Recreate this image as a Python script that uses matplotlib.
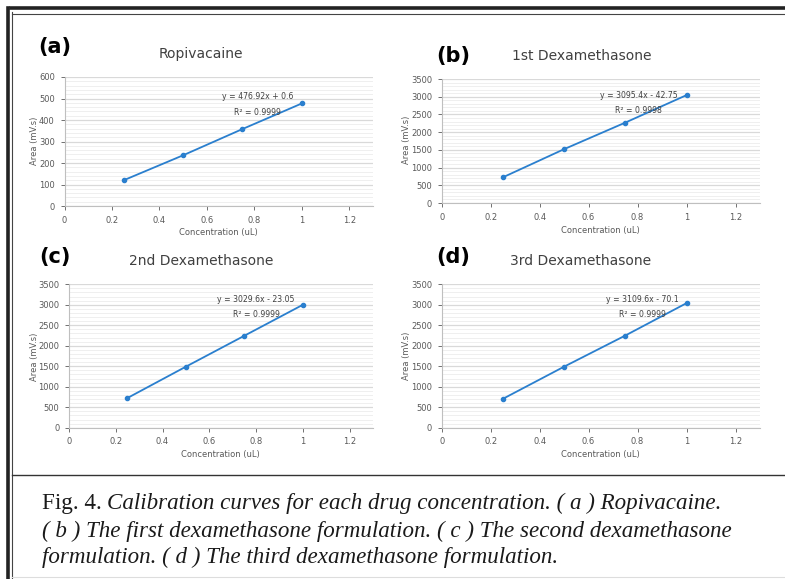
import matplotlib
matplotlib.use("Agg")
import matplotlib.pyplot as plt
from matplotlib.lines import Line2D
from matplotlib.ticker import MultipleLocator

W, H = 785, 579

# data
conc = [0.25, 0.5, 0.75, 1.0]
ropivacaine = [120, 236, 358, 477]
dexa_1st = [725, 1520, 2270, 3045]
dexa_2nd = [725, 1490, 2245, 3000]
dexa_3rd = [705, 1490, 2250, 3040]

letters = ["(a)", "(b)", "(c)", "(d)"]
titles = ["Ropivacaine", "1st Dexamethasone", "2nd Dexamethasone", "3rd Dexamethasone"]
series = [ropivacaine, dexa_1st, dexa_2nd, dexa_3rd]
equations = ["y = 476.92x + 0.6", "y = 3095.4x - 42.75",
             "y = 3029.6x - 23.05", "y = 3109.6x - 70.1"]
r_squared = ["R² = 0.9999", "R² = 0.9998", "R² = 0.9999", "R² = 0.9999"]
y_max = [600, 3500, 3500, 3500]
y_major = [100, 500, 500, 500]
x_ticks = [0, 0.2, 0.4, 0.6, 0.8, 1.0, 1.2]
x_ticklabels = ["0", "0.2", "0.4", "0.6", "0.8", "1", "1.2"]

# layout, in pixels of the 785x579 picture
boxes = [(64.5, 77, 373, 206), (441.7, 79, 760, 203),
         (69, 284.3, 373, 427.7), (441.7, 284.3, 760, 427.7)]
letter_pos = [(55, 47), (453, 56), (55, 257), (453, 257)]
title_pos = [(201, 54), (582, 56), (201, 261), (581, 261)]
xlabel_pos = [(218, 233), (600, 231), (220, 455), (600, 455)]
ylabel_pos = [(35, 141), (407, 140), (35, 357), (407, 356)]
eq_pos = [(0.815, 507, 437), (0.805, 3048, 2625), (0.80, 3117, 2768), (0.82, 3117, 2768)]

BLUE = "#2a7fce"
TICK = "#595959"
MAJOR = "#d9d9d9"
MINOR = "#efefef"


def fx(x):
    return x / W


def fy(y):
    return 1 - y / H


fig = plt.figure(figsize=(W / 100, H / 100), dpi=100)
fig.patch.set_facecolor("white")

for i in range(4):
    x0, y0, x1, y1 = boxes[i]
    ax = fig.add_axes([fx(x0), fy(y1), (x1 - x0) / W, (y1 - y0) / H])
    ax.plot(conc, series[i], color=BLUE, lw=1.3, marker="o", ms=3, zorder=3)
    ax.set_xlim(0, 1.3)
    ax.set_ylim(0, y_max[i])
    ax.set_xticks(x_ticks)
    ax.set_xticklabels(x_ticklabels)
    ax.yaxis.set_major_locator(MultipleLocator(y_major[i]))
    ax.yaxis.set_minor_locator(MultipleLocator(y_major[i] / 5))
    ax.grid(True, which="major", axis="y", color=MAJOR, lw=0.9, zorder=0)
    ax.grid(True, which="minor", axis="y", color=MINOR, lw=0.7, zorder=0)
    ax.tick_params(axis="both", which="major", labelsize=6, colors=TICK,
                   length=3, width=0.6, pad=4, labelcolor=TICK)
    ax.tick_params(axis="y", which="minor", length=0)
    for s in ("top", "right"):
        ax.spines[s].set_visible(False)
    for s in ("left", "bottom"):
        ax.spines[s].set_color("#bfbfbf")
        ax.spines[s].set_linewidth(0.8)
    ex, ey, ry = eq_pos[i]
    ax.text(ex, ey, equations[i], fontsize=5.6, color="#404040", ha="center", va="center")
    ax.text(ex, ry, r_squared[i], fontsize=5.6, color="#404040", ha="center", va="center")

    fig.text(fx(letter_pos[i][0]), fy(letter_pos[i][1]), letters[i], fontsize=15,
             fontweight="bold", ha="center", va="center", color="black")
    fig.text(fx(title_pos[i][0]), fy(title_pos[i][1]), titles[i], fontsize=10,
             ha="center", va="center", color="#404040")
    fig.text(fx(xlabel_pos[i][0]), fy(xlabel_pos[i][1]), "Concentration (uL)",
             fontsize=6, ha="center", va="center", color=TICK)
    fig.text(fx(ylabel_pos[i][0]), fy(ylabel_pos[i][1]), "Area (mV.s)",
             fontsize=6, ha="center", va="center", color=TICK, rotation=90)

# frame: double line on top and left, rule above the caption, faint bottom edge
frame = [
    ((11, 8), (W, 8), 2.6, "#222222"),
    ((12, 14), (W, 14), 0.8, "#444444"),
    ((8, 8), (8, H), 2.6, "#222222"),
    ((12, 12), (12, H), 0.8, "#444444"),
    ((12, 475), (W, 475), 1.0, "#333333"),
    ((12, 577), (W, 577), 0.8, "#dddddd"),
]
for (xa, ya), (xb, yb), lw, col in frame:
    fig.add_artist(Line2D([fx(xa), fx(xb)], [fy(ya), fy(yb)], color=col, lw=lw))

# caption
cap_font = "Liberation Serif"
cap_size = 16.6
fig.text(fx(42), fy(509), "Fig. 4.", fontsize=cap_size, family=cap_font,
         ha="left", va="baseline", color="#1a1a1a")
fig.text(fx(107), fy(509), "Calibration curves for each drug concentration. ( a ) Ropivacaine.",
         fontsize=cap_size, family=cap_font, style="italic", ha="left", va="baseline", color="#1a1a1a")
fig.text(fx(42), fy(537), "( b ) The first dexamethasone formulation. ( c ) The second dexamethasone",
         fontsize=cap_size, family=cap_font, style="italic", ha="left", va="baseline", color="#1a1a1a")
fig.text(fx(42), fy(563), "formulation. ( d ) The third dexamethasone formulation.",
         fontsize=cap_size, family=cap_font, style="italic", ha="left", va="baseline", color="#1a1a1a")

fig.savefig("out.png", dpi=100, facecolor="white")
